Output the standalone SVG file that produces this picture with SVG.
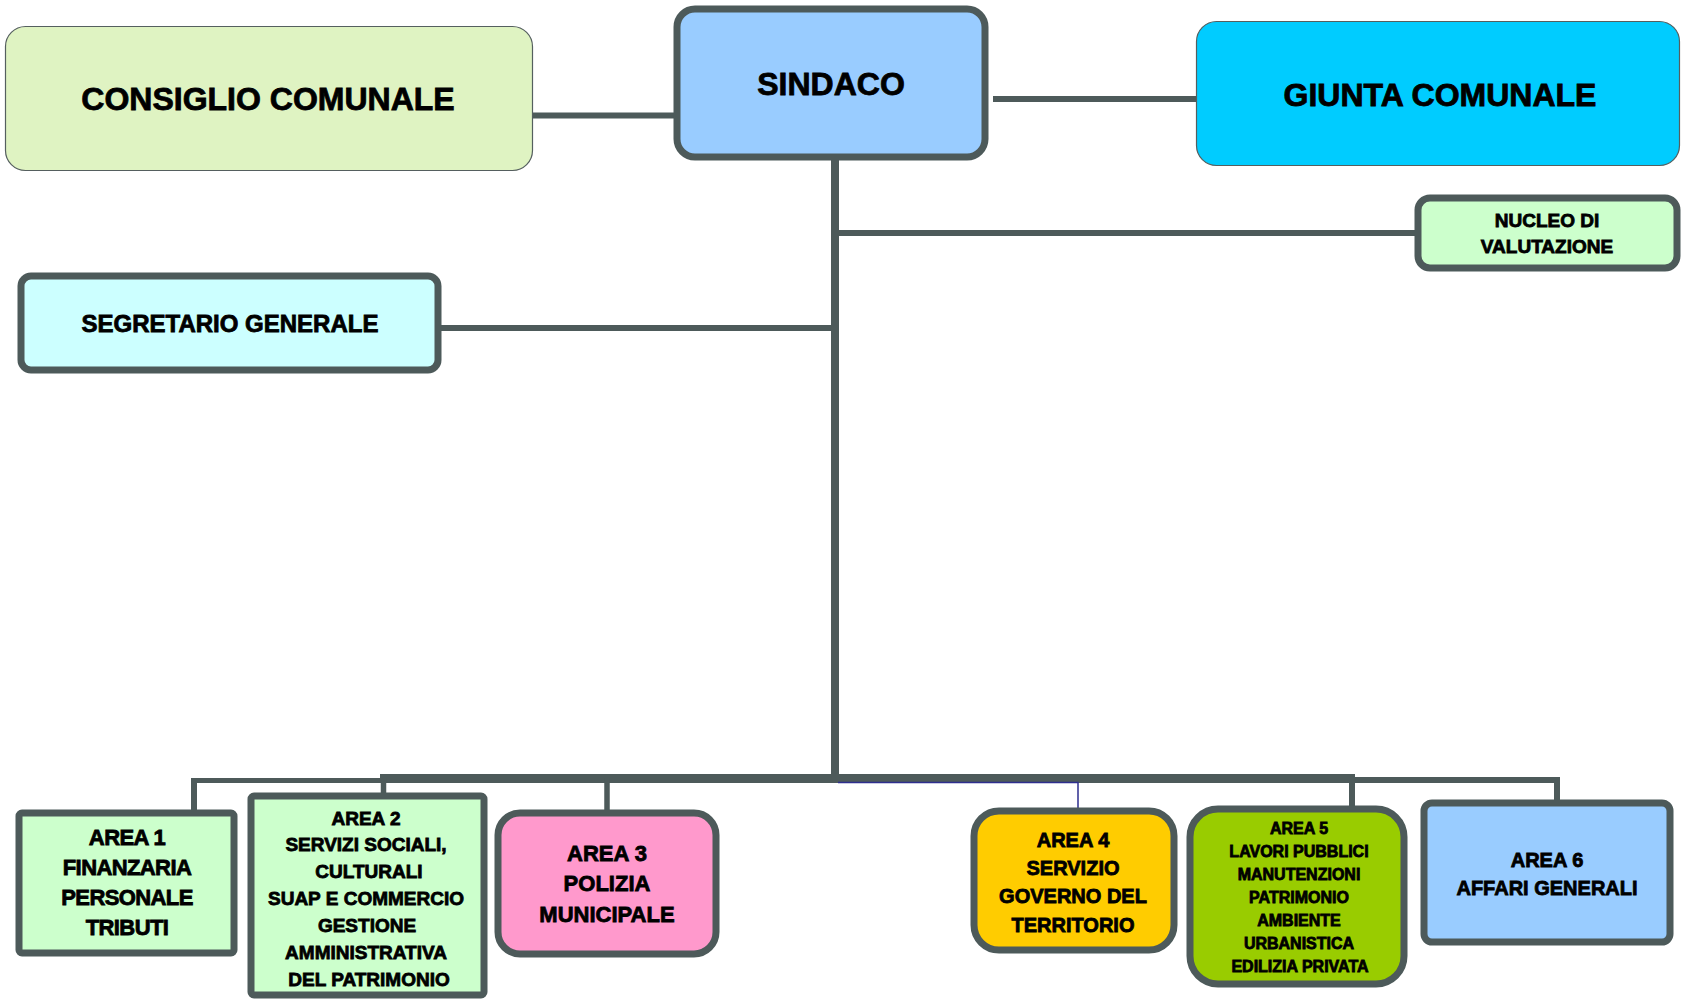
<svg xmlns="http://www.w3.org/2000/svg" width="1681" height="1000" viewBox="0 0 1681 1000">
<style>
.box{stroke:#4D5A5A;stroke-width:7}
.thin{stroke:#555F5F;stroke-width:1.2}
.t{font-family:"Liberation Sans",Arial,sans-serif;font-weight:bold;fill:#000;stroke:#000;stroke-width:0.8;text-anchor:middle}
.c{stroke:#4D5A5A;fill:none}
</style>
<rect width="1681" height="1000" fill="#fff"/>
<g id="connectors">
<line class="c" x1="533" y1="115.5" x2="677" y2="115.5" stroke-width="6"/>
<line class="c" x1="993" y1="99" x2="1196" y2="99" stroke-width="6"/>
<line class="c" x1="835" y1="157" x2="835" y2="779" stroke-width="8"/>
<line class="c" x1="835" y1="233" x2="1418" y2="233" stroke-width="6"/>
<line class="c" x1="438" y1="328" x2="835" y2="328" stroke-width="6"/>
<line class="c" x1="191" y1="780.5" x2="383" y2="780.5" stroke-width="5"/>
<line class="c" x1="380" y1="778.5" x2="1355" y2="778.5" stroke-width="9"/>
<line class="c" x1="1352" y1="780" x2="1560" y2="780" stroke-width="6"/>
<line class="c" x1="194" y1="778" x2="194" y2="813" stroke-width="6"/>
<line class="c" x1="383.5" y1="778" x2="383.5" y2="796" stroke-width="5.5"/>
<line class="c" x1="607" y1="778" x2="607" y2="813" stroke-width="5.5"/>
<line class="c" x1="1352" y1="778" x2="1352" y2="809" stroke-width="6"/>
<line class="c" x1="1557" y1="777" x2="1557" y2="803" stroke-width="6"/>
<polyline points="838,782.5 1078,782.5 1078,809" fill="none" stroke="#2E2E8E" stroke-width="1.5"/>
</g>
<g id="consiglio">
<rect class="thin" x="5.5" y="26.5" width="527" height="144" rx="20" fill="#DFF3C2"/>
<text class="t" x="268" y="110" font-size="32">CONSIGLIO COMUNALE</text>
</g>
<g id="sindaco">
<rect class="box" x="677" y="9" width="308" height="148" rx="18" fill="#99CCFF" stroke-width="8"/>
<text class="t" x="831" y="95" font-size="32">SINDACO</text>
</g>
<g id="giunta">
<rect class="thin" x="1196.5" y="21.5" width="483" height="144" rx="20" fill="#00CCFF"/>
<text class="t" x="1440" y="106" font-size="32">GIUNTA COMUNALE</text>
</g>
<g id="nucleo">
<rect class="box" x="1418" y="198" width="259" height="70" rx="12" fill="#CCFFCC" stroke-width="6"/>
<text class="t" x="1547" y="227" font-size="19">NUCLEO DI</text>
<text class="t" x="1547" y="253" font-size="19">VALUTAZIONE</text>
</g>
<g id="segretario">
<rect class="box" x="21" y="276" width="417" height="94" rx="10" fill="#CCFFFF" stroke-width="6"/>
<text class="t" x="230" y="332" font-size="24">SEGRETARIO GENERALE</text>
</g>
<g id="area1">
<rect class="box" x="19" y="813" width="215" height="140" rx="3" fill="#CCFFCC"/>
<text class="t" x="127" y="845" font-size="22" letter-spacing="-0.6">AREA 1</text>
<text class="t" x="127" y="875" font-size="22" letter-spacing="-0.6">FINANZARIA</text>
<text class="t" x="127" y="905" font-size="22" letter-spacing="-0.6">PERSONALE</text>
<text class="t" x="127" y="935" font-size="22" letter-spacing="-0.6">TRIBUTI</text>
</g>
<g id="area2">
<rect class="box" x="251" y="796" width="233" height="199" rx="3" fill="#CCFFCC"/>
<text class="t" x="366" y="825" font-size="19">AREA 2</text>
<text class="t" x="366" y="851" font-size="19">SERVIZI SOCIALI,</text>
<text class="t" x="369" y="878" font-size="19">CULTURALI</text>
<text class="t" x="366" y="905" font-size="19">SUAP E COMMERCIO</text>
<text class="t" x="367" y="932" font-size="19">GESTIONE</text>
<text class="t" x="366" y="959" font-size="19">AMMINISTRATIVA</text>
<text class="t" x="369" y="986" font-size="19">DEL PATRIMONIO</text>
</g>
<g id="area3">
<rect class="box" x="498" y="813" width="218" height="141" rx="22" fill="#FF99CC"/>
<text class="t" x="607" y="861" font-size="22">AREA 3</text>
<text class="t" x="607" y="891" font-size="22">POLIZIA</text>
<text class="t" x="607" y="922" font-size="22">MUNICIPALE</text>
</g>
<g id="area4">
<rect class="box" x="974" y="811" width="200" height="139" rx="25" fill="#FFCC00"/>
<text class="t" x="1073" y="847" font-size="20">AREA 4</text>
<text class="t" x="1073" y="875" font-size="20">SERVIZIO</text>
<text class="t" x="1073" y="903" font-size="20">GOVERNO DEL</text>
<text class="t" x="1073" y="932" font-size="20">TERRITORIO</text>
</g>
<g id="area5">
<rect class="box" x="1190" y="809" width="214" height="175" rx="28" fill="#99CC00"/>
<text class="t" x="1299" y="834" font-size="16">AREA 5</text>
<text class="t" x="1299" y="857" font-size="16">LAVORI PUBBLICI</text>
<text class="t" x="1299" y="880" font-size="16">MANUTENZIONI</text>
<text class="t" x="1299" y="903" font-size="16">PATRIMONIO</text>
<text class="t" x="1299" y="926" font-size="16">AMBIENTE</text>
<text class="t" x="1299" y="949" font-size="16">URBANISTICA</text>
<text class="t" x="1300" y="972" font-size="16">EDILIZIA PRIVATA</text>
</g>
<g id="area6">
<rect class="box" x="1424" y="803" width="246" height="139" rx="8" fill="#99CCFF"/>
<text class="t" x="1547" y="867" font-size="20">AREA 6</text>
<text class="t" x="1547" y="895" font-size="20">AFFARI GENERALI</text>
</g>
</svg>
